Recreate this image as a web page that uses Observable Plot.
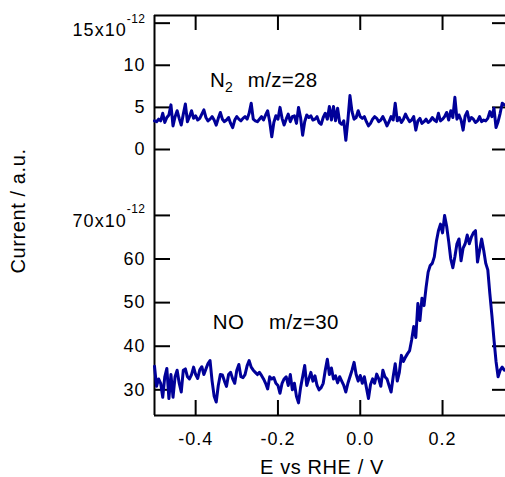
<!DOCTYPE html>
<html><head><meta charset="utf-8">
<script src="https://cdn.jsdelivr.net/npm/d3@7"></script>
<script src="https://cdn.jsdelivr.net/npm/@observablehq/plot@0.6"></script>
<style>
body{margin:0;background:#fff;}
#chart{position:relative;width:505px;height:477px;}
#chart svg{display:block;}
#overlay{position:absolute;left:0;top:0;pointer-events:none;}
</style></head><body><div id="chart"></div>
<script>
// ---- data ----
const E_START = -0.5, E_STEP = 0.005;   // potential sampling (V vs RHE)
const xTicks = [-0.4, -0.2, 0.0, 0.2];
const n2Ticks = [0, 5, 10, 15];
const noTicks = [30, 40, 50, 60, 70];
// N2, m/z=28 (units of 1e-12)
const n2Current = [
  3.4, 3.3, 3.6, 3.4, 4.3, 3.2, 3.8, 4.1, 5.3, 2.8,
  3.9, 4.6, 3.7, 2.9, 4.2, 5.4, 3.3, 3.9, 4.6, 3.7,
  4.0, 3.5, 3.7, 4.2, 4.7, 3.8, 3.4, 3.6, 3.9, 3.5,
  2.9, 3.7, 4.4, 3.6, 3.3, 3.5, 3.8, 3.1, 2.6, 3.5,
  3.9, 3.6, 3.4, 3.7, 3.9, 3.6, 4.3, 5.5, 3.6, 3.4,
  3.3, 3.6, 3.9, 3.5, 4.1, 4.6, 3.3, 1.5, 3.2, 4.0,
  3.6, 5.0, 3.7, 2.9, 3.6, 4.2, 3.3, 3.9, 4.0, 3.1,
  5.0, 3.8, 1.7, 3.3, 4.1, 3.8, 4.0, 3.5, 3.6, 3.9,
  3.2, 3.0, 3.8, 4.3, 3.6, 5.1, 3.5, 5.1, 3.4, 4.9,
  3.2, 3.0, 3.4, 1.1, 3.5, 6.4, 4.5, 3.6, 3.8, 4.6,
  3.9, 3.7, 3.9, 3.3, 2.8, 3.1, 3.6, 3.9, 3.7, 3.3,
  3.5, 3.9, 3.4, 2.8, 3.3, 3.9, 3.5, 5.5, 3.4, 3.8,
  3.2, 3.6, 4.2, 3.7, 3.3, 3.5, 3.9, 2.3, 3.4, 3.7,
  3.1, 3.3, 3.6, 3.2, 3.4, 3.8, 3.5, 3.3, 4.3, 3.4,
  3.6, 3.9, 4.4, 3.5, 4.6, 3.8, 6.2, 3.6, 4.1, 3.5,
  2.3, 4.0, 4.5, 3.4, 3.8, 3.6, 3.2, 3.4, 3.9, 3.3,
  3.5, 3.4, 3.7, 4.5, 3.9, 4.9, 2.6, 3.3, 4.3, 5.5,
  5.3
];
// NO, m/z=30 (units of 1e-12)
const noCurrent = [
  35.4, 30.8, 32.5, 31.5, 28.3, 33.0, 34.9, 28.0, 33.5, 28.3,
  33.0, 34.5, 31.5, 29.5, 34.5, 34.8, 33.0, 32.5, 33.5, 35.2,
  33.5, 32.6, 34.6, 35.3, 33.5, 34.8, 36.0, 36.7, 32.0, 28.5,
  27.2, 31.0, 33.5, 33.4, 32.0, 30.8, 33.5, 34.0, 32.5, 31.5,
  34.5, 35.8, 33.0, 32.8, 33.5, 35.5, 36.7, 35.2, 34.5, 34.0,
  33.5, 34.0, 33.3, 32.5, 31.5, 30.2, 33.0, 32.5, 32.8, 31.5,
  31.0, 29.2, 31.5, 32.5, 33.0, 31.0, 33.5, 30.0, 31.5, 28.5,
  27.0, 30.5, 33.0, 35.6, 31.0, 32.5, 34.0, 32.0, 33.2, 31.0,
  30.0, 30.5, 31.5, 34.5, 37.0, 33.5, 35.0, 32.5, 33.2, 31.6,
  33.0, 32.0, 31.0, 29.5, 31.5, 33.0, 34.5, 36.3, 33.5, 32.0,
  33.3, 31.5, 33.0, 30.5, 28.0, 31.2, 32.5, 31.5, 33.6, 32.5,
  30.8, 34.5, 33.0, 32.5, 31.0, 29.5, 33.0, 36.0, 32.0, 34.0,
  37.9, 36.5, 37.5, 38.3, 39.0, 41.5, 44.5, 42.0, 49.8, 45.9,
  51.0, 49.3, 53.5, 57.0, 58.5, 59.0, 60.5, 64.0, 66.5, 68.0,
  66.0, 70.0, 67.5, 64.0, 60.0, 58.0, 60.5, 63.5, 64.6, 59.6,
  62.5, 63.5, 65.5, 63.5, 65.0, 66.0, 66.5, 59.3, 62.0, 64.6,
  62.0, 59.0, 57.5, 52.0, 47.0, 41.5, 36.5, 33.0, 34.5, 35.2,
  34.5
];
const n2Label = {main: "N", sub: "2", rest: "m/z=28", E: [-0.364, -0.272], I: 7.33};
const noLabel = {main: "NO", sub: "", rest: "m/z=30", E: [-0.357, -0.2205], I: 43.76};
const yTitle = "Current / a.u.";
const xTitle = "E vs RHE / V";

// ---- build ----
const LINE = "#000099";
const FONT = '"Liberation Sans", Arial, Helvetica, sans-serif';
const xDomain = [-0.5, 0.353];
const toRows = arr => arr.map((v, i) => ({E: +(E_START + i * E_STEP).toFixed(3), I: v}));
const n2Data = toRows(n2Current);
const noData = toRows(noCurrent);
const fmtX = d => d.toFixed(1);
const style = {fontFamily: FONT, fontSize: "18px", letterSpacing: "1px", color: "#000", background: "transparent", overflow: "visible"};

const topY = [-1.9, 15.91];
const topPlot = Plot.plot({
  width: 505, height: 165, marginLeft: 154, marginRight: 0, marginTop: 15, marginBottom: 0,
  style,
  x: {domain: xDomain, axis: null},
  y: {domain: topY},
  marks: [
    Plot.ruleX([xDomain[0]], {stroke: "#000", strokeWidth: 2}),
    Plot.ruleY([topY[1]], {stroke: "#000", strokeWidth: 2}),
    Plot.tickX(xTicks, {x: d => d, insetBottom: 135, stroke: "#000", strokeWidth: 2}),
    Plot.tickY(n2Ticks, {y: d => d, insetRight: 335, stroke: "#000", strokeWidth: 2}),
    Plot.tickY(n2Ticks, {y: d => d, insetLeft: 338, stroke: "#000", strokeWidth: 2}),
    Plot.axisY(n2Ticks, {anchor: "left", tickSize: 0, tickPadding: 9, label: null,
      tickFormat: d => d === 15 ? "15x10" : String(d)}),
    Plot.line(n2Data, {x: "E", y: "I", stroke: LINE, strokeWidth: 3, strokeLinejoin: "round"})
  ]
});

const botY = [24.11, 81.45];
const botPlot = Plot.plot({
  width: 505, height: 312, marginLeft: 154, marginRight: 0, marginTop: 0, marginBottom: 62,
  style,
  x: {domain: xDomain},
  y: {domain: botY},
  marks: [
    Plot.ruleX([xDomain[0]], {stroke: "#000", strokeWidth: 2}),
    Plot.ruleY([botY[0]], {stroke: "#000", strokeWidth: 2}),
    Plot.tickX(xTicks, {x: d => d, insetTop: 235, stroke: "#000", strokeWidth: 2}),
    Plot.tickY(noTicks, {y: d => d, insetRight: 335, stroke: "#000", strokeWidth: 2}),
    Plot.tickY(noTicks, {y: d => d, insetLeft: 338, stroke: "#000", strokeWidth: 2}),
    Plot.axisY(noTicks, {anchor: "left", tickSize: 0, tickPadding: 9, label: null,
      tickFormat: d => d === 70 ? "70x10" : String(d)}),
    Plot.axisX(xTicks, {anchor: "bottom", tickSize: 0, tickPadding: 17, label: null, tickFormat: fmtX}),
    Plot.line(noData, {x: "E", y: "I", stroke: LINE, strokeWidth: 3, strokeLinejoin: "round"})
  ]
});

function addExponent(svg, base, shiftDown, up) {
  d3.select(svg).selectAll('g[aria-label="y-axis tick label"] text').each(function() {
    if (this.textContent === base) {
      const t = this.getAttribute("transform") || "";
      this.setAttribute("transform", t + ` translate(0,${shiftDown})`);
      d3.select(this).append("tspan").attr("dy", -up).attr("font-size", 12).style("letter-spacing", "0.5px").text("-12");
    }
  });
}
addExponent(topPlot, "15x10", 7, 13);
addExponent(botPlot, "70x10", 6, 14);

function addLabel(plot, lab) {
  const sx = plot.scale("x"), sy = plot.scale("y");
  const y = sy.apply(lab.I);
  const g = d3.select(plot).append("g").attr("fill", "#000").attr("font-size", 20.5).style("letter-spacing", "0.3px");
  const t = g.append("text").attr("x", sx.apply(lab.E[0])).attr("y", y).attr("text-anchor", "start");
  t.append("tspan").text(lab.main);
  if (lab.sub) t.append("tspan").attr("font-size", 14).attr("dy", 4.5).text(lab.sub);
  g.append("text").attr("x", sx.apply(lab.E[1])).attr("y", y).attr("text-anchor", "start").text(lab.rest);
}
addLabel(topPlot, n2Label);
addLabel(botPlot, noLabel);

const chart = document.getElementById("chart");
chart.appendChild(topPlot);
chart.appendChild(botPlot);

const overlay = d3.select(chart).append("svg").attr("id", "overlay")
  .attr("width", 505).attr("height", 477)
  .style("font-family", FONT).attr("fill", "#000");
overlay.append("text").attr("transform", "translate(25,211) rotate(-90)")
  .attr("text-anchor", "middle").attr("font-size", 20).style("letter-spacing", "0.6px").text(yTitle);
overlay.append("text").attr("x", 322).attr("y", 474)
  .attr("text-anchor", "middle").attr("font-size", 20).style("letter-spacing", "0.6px").text(xTitle);
</script></body></html>
